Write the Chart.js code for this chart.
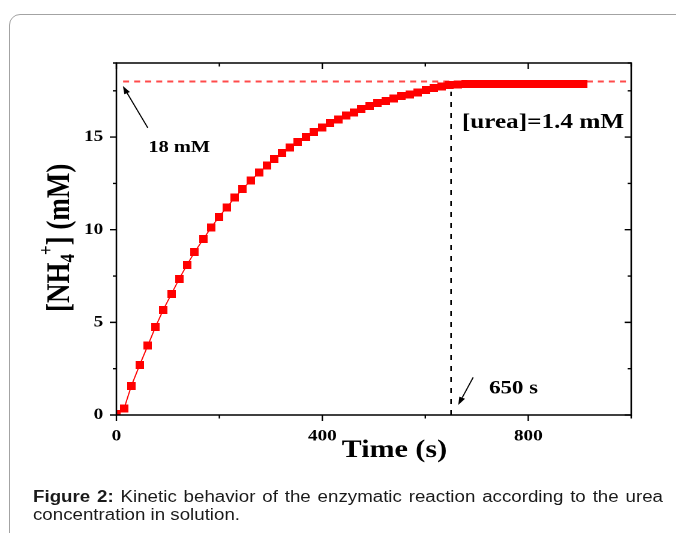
<!DOCTYPE html>
<html><head><meta charset="utf-8">
<script src="https://cdn.jsdelivr.net/npm/chart.js@4.4.0/dist/chart.umd.min.js"></script>
<style>
html,body{margin:0;padding:0;background:#fff;width:676px;height:533px;overflow:hidden;}
#frame{position:absolute;left:9px;top:14px;width:900px;height:700px;border:1px solid #a3a3a3;border-radius:11px;}
#wrap{position:absolute;left:0;top:0;width:563.33px;height:533px;transform:scaleX(1.2);transform-origin:0 0;}
#box{position:absolute;left:0;top:0;width:563px;height:470px;}
#cap{position:absolute;left:27.5px;top:488px;width:525px;font:15.6px/18px "Liberation Sans",Arial,sans-serif;color:#1a1a1a;text-align:justify;text-align-last:left;}
</style></head>
<body>
<div id="frame"></div>
<div id="wrap">
  <div id="box"><canvas id="c"></canvas></div>
  <div id="cap"><b>Figure 2:</b> Kinetic behavior of the enzymatic reaction according to the urea concentration in solution.</div>
</div>
<script>
// ---- data ----
const times = [0,15,29,45,61,76,91,107,122,137,152,169,184,199,214,230,245,261,277,292,307,322,337,352,368,384,400,415,431,446,461,476,492,507,523,539,554,570,585,601,616,632,647,663,678,693,708,724,739,754,770,785,800,816,831,846,862,877,892,907];
const nh4 = [0.05,0.36,1.57,2.69,3.75,4.76,5.68,6.54,7.35,8.10,8.80,9.50,10.12,10.68,11.20,11.73,12.20,12.65,13.08,13.46,13.82,14.15,14.45,14.73,15.01,15.28,15.53,15.77,15.96,16.16,16.34,16.52,16.69,16.83,16.96,17.08,17.21,17.31,17.42,17.53,17.64,17.73,17.82,17.85,17.86,17.86,17.86,17.86,17.86,17.86,17.86,17.86,17.86,17.86,17.86,17.86,17.86,17.86,17.86,17.86];
const saturation = 18;          // mM, dashed red reference level
const saturationStart = 13;     // s
const tStop = 650;              // s, vertical marker
const tStopTop = 17.45;         // mM
const xTickLabels = [0, 400, 800];
const yTickLabels = [0, 5, 10, 15];

const SERIF = '"Liberation Serif","Times New Roman",serif';

const sq = document.createElement('canvas');
sq.width = 7; sq.height = 8;
const sctx = sq.getContext('2d');
sctx.fillStyle = '#ff0000'; sctx.fillRect(0, 0, 7, 8);

function arrow(ctx, x1, y1, x2, y2) {
  ctx.save();
  ctx.strokeStyle = '#000'; ctx.fillStyle = '#000'; ctx.lineWidth = 1;
  const a = Math.atan2(y2 - y1, x2 - x1), L = 8, W = 2.6;
  const bx = x2 - L * Math.cos(a), by = y2 - L * Math.sin(a);
  ctx.beginPath(); ctx.moveTo(x1, y1); ctx.lineTo(bx, by); ctx.stroke();
  ctx.beginPath();
  ctx.moveTo(x2, y2);
  ctx.lineTo(bx + W * Math.sin(a), by - W * Math.cos(a));
  ctx.lineTo(bx - W * Math.sin(a), by + W * Math.cos(a));
  ctx.closePath(); ctx.fill();
  ctx.restore();
}

const deco = {
  id: 'deco',
  afterDraw(chart) {
    const {ctx, chartArea: ca, scales: {x, y}} = chart;
    ctx.save();
    ctx.strokeStyle = '#000';
    // frame box
    ctx.lineWidth = 1.6;
    ctx.beginPath();
    ctx.moveTo(ca.left, ca.top); ctx.lineTo(ca.right, ca.top);
    ctx.moveTo(ca.left, ca.bottom); ctx.lineTo(ca.right, ca.bottom);
    ctx.stroke();
    ctx.lineWidth = 1.3;
    ctx.beginPath();
    ctx.moveTo(ca.left, ca.top - 0.8); ctx.lineTo(ca.left, ca.bottom + 0.8);
    ctx.moveTo(ca.right, ca.top - 0.8); ctx.lineTo(ca.right, ca.bottom + 0.8);
    ctx.stroke();
    // x ticks
    ctx.lineWidth = 1.2;
    ctx.beginPath();
    x.ticks.forEach(t => {
      const px = x.getPixelForValue(t.value);
      const major = xTickLabels.includes(t.value);
      const len = major ? 6 : 3.5;
      ctx.moveTo(px, ca.bottom); ctx.lineTo(px, ca.bottom + len);
      ctx.moveTo(px, ca.top); ctx.lineTo(px, ca.top + len);
    });
    ctx.stroke();
    ctx.lineWidth = 1.4;
    ctx.beginPath();
    y.ticks.forEach(t => {
      const py = y.getPixelForValue(t.value);
      const major = yTickLabels.includes(t.value);
      const len = major ? 5.5 : 3;
      ctx.moveTo(ca.left, py); ctx.lineTo(ca.left - len, py);
      ctx.moveTo(ca.right, py); ctx.lineTo(ca.right - len, py);
    });
    ctx.stroke();

    // annotations
    ctx.fillStyle = '#000';
    ctx.textAlign = 'left'; ctx.textBaseline = 'alphabetic';
    ctx.font = 'bold 17px ' + SERIF;
    ctx.fillText('18 mM', x.getPixelForValue(62), y.getPixelForValue(14.2));
    ctx.font = 'bold 21px ' + SERIF;
    ctx.fillText('[urea]=1.4 mM', x.getPixelForValue(671), y.getPixelForValue(15.5));
    ctx.font = 'bold 19px ' + SERIF;
    ctx.fillText('650 s', x.getPixelForValue(724), y.getPixelForValue(1.16));
    arrow(ctx, x.getPixelForValue(61), y.getPixelForValue(15.5), x.getPixelForValue(12.6), y.getPixelForValue(17.76));
    arrow(ctx, x.getPixelForValue(693), y.getPixelForValue(2.03), x.getPixelForValue(664), y.getPixelForValue(0.54));

    // x title
    ctx.font = 'bold 25px ' + SERIF;
    ctx.textAlign = 'center';
    ctx.fillText('Time (s)', x.getPixelForValue(540), ca.bottom + 42);

    // y title with sub/superscript
    ctx.translate(ca.left - 39.6, ca.bottom - 103);
    ctx.rotate(-Math.PI / 2);
    ctx.textAlign = 'left';
    let p = 0;
    ctx.font = 'bold 27px ' + SERIF;
    ctx.fillText('[NH', p, 0); p += ctx.measureText('[NH').width;
    ctx.font = 'bold 17px ' + SERIF;
    ctx.fillText('4', p, 4); p += ctx.measureText('4').width;
    ctx.fillText('+', p - 1, -14); p += ctx.measureText('+').width - 1;
    ctx.font = 'bold 27px ' + SERIF;
    ctx.fillText('] (mM)', p, 0);
    ctx.restore();
  }
};

new Chart(document.getElementById('c'), {
  type: 'line',
  data: {
    datasets: [
      {
        data: times.map((t, i) => ({x: t, y: nh4[i]})),
        borderColor: '#ff0000', borderWidth: 1,
        pointStyle: sq, pointRadius: 3.5,
        backgroundColor: '#ff0000', order: 0
      },
      {
        data: [{x: saturationStart, y: saturation}, {x: 1000, y: saturation}],
        borderColor: '#ff4a4a', borderWidth: 2, borderDash: [5, 4.2],
        pointRadius: 0, order: 1
      },
      {
        data: [{x: tStop, y: 0}, {x: tStop, y: tStopTop}],
        borderColor: '#000', borderWidth: 1.3, borderDash: [5, 6],
        pointRadius: 0, order: 2
      }
    ]
  },
  options: {
    responsive: true, maintainAspectRatio: false, animation: false,
    devicePixelRatio: 2, events: [],
    layout: {padding: {left: 0, right: 37, top: 63, bottom: 0}},
    plugins: {legend: {display: false}, tooltip: {enabled: false}},
    scales: {
      x: {
        type: 'linear', min: 0, max: 1000,
        grid: {display: true, drawOnChartArea: false, drawTicks: true, tickLength: 6, color: 'rgba(0,0,0,0)'},
        border: {display: false},
        ticks: {
          stepSize: 200, autoSkip: false, maxRotation: 0, padding: 6,
          color: '#000', font: {family: SERIF, weight: 'bold', size: 16},
          callback: v => xTickLabels.includes(v) ? String(v) : ''
        },
        afterFit: s => { s.height = 55; }
      },
      y: {
        type: 'linear', min: 0, max: 19,
        grid: {display: true, drawOnChartArea: false, drawTicks: true, tickLength: 6, color: 'rgba(0,0,0,0)'},
        border: {display: false},
        ticks: {
          stepSize: 2.5, autoSkip: false, padding: 5,
          color: '#000', font: {family: SERIF, weight: 'bold', size: 16},
          callback: v => yTickLabels.includes(v) ? String(v) : ''
        },
        afterFit: s => { s.width = 97; }
      }
    }
  },
  plugins: [deco]
});
</script>
</body></html>
